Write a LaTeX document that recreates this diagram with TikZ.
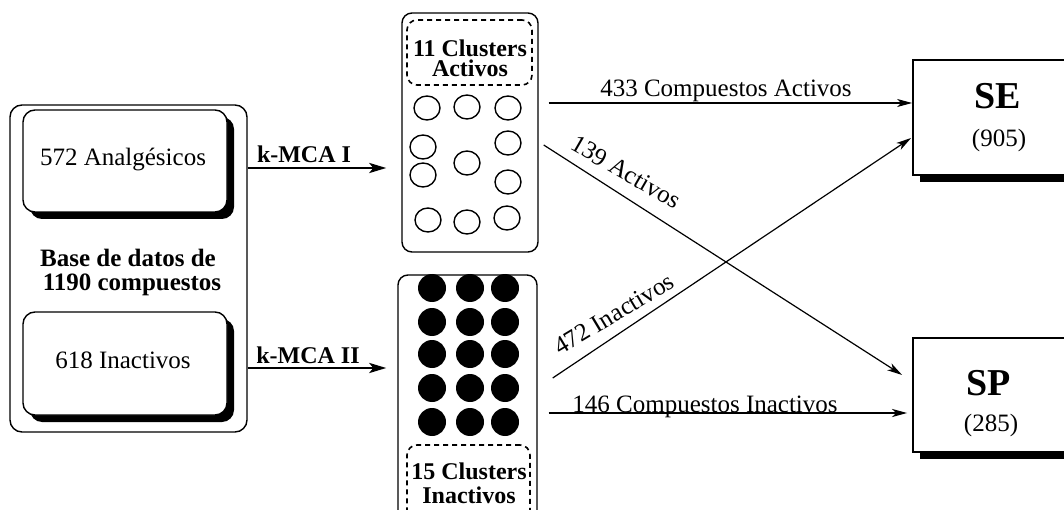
\documentclass[tikz,border=0pt]{standalone}
\usepackage{fontspec}
\setmainfont{Liberation Serif}
\usetikzlibrary{arrows.meta,calc,shadows,shapes.geometric}
\newcommand\myfs[2]{\fontsize{#1}{#2}\selectfont}
\tikzset{
  arr/.style={-{Stealth[length=15pt,width=8pt,inset=4pt]}, line width=1.2pt},
  thickarr/.style={-{Stealth[length=17pt,width=10pt,inset=4pt]}, line width=2.8pt},
  midarr/.style={-{Stealth[length=15pt,width=8pt,inset=4pt]}, line width=2.2pt},
  rbox/.style={draw, rounded corners=12pt, line width=1.4pt, inner sep=0pt},
  sbox/.style={rbox, fill=white, drop shadow={shadow xshift=7pt, shadow yshift=-7pt, opacity=1, fill=black}},
  resbox/.style={draw, line width=1.8pt, fill=white, inner sep=0pt, drop shadow={shadow xshift=7pt, shadow yshift=-7pt, opacity=1, fill=black}},
  dbox/.style={draw, dash pattern=on 5pt off 4pt, line width=1.6pt, rounded corners=10pt, inner sep=0pt},
  ocirc/.style={draw, ellipse, line width=1.4pt, minimum width=26pt, minimum height=24pt, inner sep=0pt},
  fcirc/.style={fill=black, circle, minimum size=28pt, inner sep=0pt},
  txt/.style={font=\myfs{25}{25}, inner sep=0pt},
  btxt/.style={font=\myfs{25}{24}\bfseries, inner sep=0pt, align=center},
  ltxt/.style={font=\myfs{24}{24}\bfseries, inner sep=0pt},
}
\begin{document}
\begin{tikzpicture}[x=1pt,y=-1pt]
\useasboundingbox (0,0) rectangle (1064,510);
\clip (0,0) rectangle (1064,510);

% left database box
\node[rbox, minimum width=237pt, minimum height=327pt] (db) at (128.5,268.5) {};
\node[sbox, minimum width=204pt, minimum height=102pt] (analg) at (125,161) {};
\node[txt] (analgt) at (123,160) {572 Analgésicos};
\node[sbox, minimum width=204pt, minimum height=103pt] (inac) at (125,363.5) {};
\node[txt] (inact) at (123,360) {618 Inactivos};
\node[btxt, font=\myfs{25}{24}\bfseries] (dbt) at (128,272) {Base de datos de\\\hspace*{8pt}1190 compuestos};

% middle top box: active clusters
\node[rbox, rounded corners=10pt, minimum width=136pt, minimum height=239pt] (act) at (470,132.5) {};
\node[dbox, minimum width=125pt, minimum height=65pt] (actl) at (469.5,52.5) {};
\node[btxt, font=\myfs{24}{20}\bfseries] (actlt) at (470,58) {11 Clusters\\Activos};
\foreach \n/\x/\y in {1/427/108, 2/467/107, 3/508/108, 4/423/147, 5/508/143,
                      6/423/175, 7/467/163, 8/508/182, 9/428/220, 10/467/222, 11/507/218}
  \node[ocirc] (c\n) at (\x,\y) {};

% middle bottom box: inactive clusters
\node[rbox, rounded corners=10pt, minimum width=139pt, minimum height=250pt] (inact2) at (467.5,400) {};
\foreach \r/\y in {1/288, 2/322, 3/354, 4/388, 5/422}
  \foreach \c/\x in {1/432, 2/470, 3/505}
    \node[fcirc] (d\r\c) at (\x,\y) {};
\node[dbox, minimum width=123pt, minimum height=80pt] (inactl) at (468.5,485) {};
\node[btxt, font=\myfs{24}{24}\bfseries] (inactlt) at (469,483) {15 Clusters\\Inactivos};

% result boxes
\node[resbox, minimum width=170pt, minimum height=115pt] (SE) at (998,117.5) {};
\node[font=\myfs{38}{38}\bfseries, inner sep=0pt] (SEt) at (998,96) {SE};
\node[txt] (SEn) at (999,140) {(905)};
\node[resbox, minimum width=170pt, minimum height=114pt] (SP) at (998,395) {};
\node[font=\myfs{38}{38}\bfseries, inner sep=0pt] (SPt) at (989,383) {SP};
\node[txt] (SPn) at (991,425) {(285)};

% k-MCA arrows
\draw[thickarr] ($(db.east)+(0,-100.5)$) -- ($(act.west)+(-15,35.5)$);
\node[ltxt, anchor=base] (k1) at (304,163) {k-MCA I};
\draw[thickarr] ($(db.east)+(0,99.5)$) -- ($(inact2.west)+(-11,-32)$);
\node[ltxt, anchor=base] (k2) at (308,363) {k-MCA II};

% outputs
\draw[arr] ($(act.east)+(10,-29.5)$) -- ($(SE.west)+(0,-14.5)$);
\node[txt, anchor=base] (l433) at (726,97) {433 Compuestos Activos};

\draw[arr] ($(act.east)+(5,12.5)$) -- ($(SP.west)+(-10,-20)$);
\node[txt, rotate=-30] (l139) at (626,172) {139 Activos};

\draw[arr] ($(inact2.east)+(15,-22)$) -- ($(SE.west)+(-1,20.5)$);
\node[txt, rotate=31] (l472) at (614,314) {472 Inactivos};

\draw[midarr] ($(inact2.east)+(11,13)$) -- ($(SP.west)+(-5,18)$);
\node[txt, anchor=base] (l146) at (705,412) {146 Compuestos Inactivos};
\end{tikzpicture}
\end{document}
